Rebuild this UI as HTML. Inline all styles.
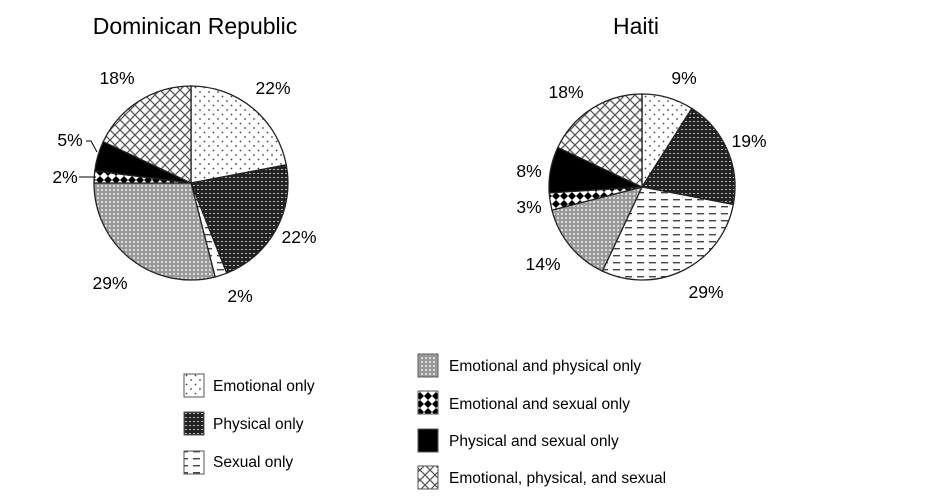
<!DOCTYPE html>
<html><head><meta charset="utf-8"><style>
body{margin:0;background:#fff;}
svg{display:block;font-family:"Liberation Sans",Arial,sans-serif;}
</style></head><body>
<svg id="s" width="933" height="500" viewBox="0 0 933 500" xmlns="http://www.w3.org/2000/svg">
<defs>
<pattern id="pE" width="9" height="9" patternUnits="userSpaceOnUse"><rect width="9" height="9" fill="#fff"/><circle cx="2" cy="2" r="0.9" fill="#444"/><circle cx="6.5" cy="6.5" r="0.9" fill="#444"/></pattern>
<pattern id="pP" width="4" height="4" patternUnits="userSpaceOnUse"><rect width="4" height="4" fill="#222"/><rect x="1" y="1" width="2" height="1" fill="#bbb"/></pattern>
<pattern id="pS" width="12" height="7" patternUnits="userSpaceOnUse"><rect width="12" height="7" fill="#fff"/><rect x="1" y="3" width="7" height="1.4" fill="#444"/></pattern>
<pattern id="pEP" width="4" height="4" patternUnits="userSpaceOnUse"><rect width="4" height="4" fill="#999"/><circle cx="2" cy="2" r="1" fill="#eee"/></pattern>
<pattern id="pES" width="8" height="8" patternUnits="userSpaceOnUse"><rect width="8" height="8" fill="#fff"/><path d="M4 0L8 4L4 8L0 4Z" fill="#000"/></pattern>
<pattern id="pA" width="10" height="10" patternUnits="userSpaceOnUse"><rect width="10" height="10" fill="#fff"/><path d="M0 0L10 10M10 0L0 10" stroke="#555" stroke-width="1.3"/></pattern>
</defs>
<text x="195" y="34" font-size="23" text-anchor="middle">Dominican Republic</text>
<text x="636" y="34" font-size="23" text-anchor="middle">Haiti</text>
<g id="pies"></g>
<g font-size="17.5">
<text x="273" y="94" text-anchor="middle">22%</text>
<text x="117" y="84" text-anchor="middle">18%</text>
<text x="70" y="146" text-anchor="middle">5%</text>
<text x="65" y="183" text-anchor="middle">2%</text>
<text x="299" y="243" text-anchor="middle">22%</text>
<text x="240" y="302" text-anchor="middle">2%</text>
<text x="110" y="289" text-anchor="middle">29%</text>
<text x="684" y="84" text-anchor="middle">9%</text>
<text x="566" y="98" text-anchor="middle">18%</text>
<text x="749" y="147" text-anchor="middle">19%</text>
<text x="529" y="177" text-anchor="middle">8%</text>
<text x="529" y="213" text-anchor="middle">3%</text>
<text x="543" y="270" text-anchor="middle">14%</text>
<text x="706" y="298" text-anchor="middle">29%</text>
</g>
<path d="M86 141L91 141L97 152M79 177L96 177" stroke="#000" fill="none"/>
<g stroke="#555" stroke-width="1">
<rect x="184" y="374" width="20" height="23" fill="url(#pE)"/>
<rect x="184" y="412" width="20" height="23" fill="url(#pP)"/>
<rect x="184" y="451" width="20" height="23" fill="url(#pS)"/>
<rect x="418" y="354" width="20" height="23" fill="url(#pEP)"/>
<rect x="418" y="391" width="20" height="23" fill="url(#pES)"/>
<rect x="418" y="429" width="20" height="23" fill="#000"/>
<rect x="418" y="466" width="20" height="23" fill="url(#pA)"/>
</g>
<g font-size="15.5">
<text x="213" y="391">Emotional only</text>
<text x="213" y="429">Physical only</text>
<text x="213" y="467">Sexual only</text>
<text x="449" y="371">Emotional and physical only</text>
<text x="449" y="409">Emotional and sexual only</text>
<text x="449" y="446">Physical and sexual only</text>
<text x="449" y="483">Emotional, physical, and sexual</text>
</g>
</svg>
<script>
var fills=["url(#pE)","url(#pP)","url(#pS)","url(#pEP)","url(#pES)","#000","url(#pA)"];
function pie(cx,cy,r,vals){
 var g=document.getElementById("pies"),a=0,out="";
 vals.forEach(function(v,i){
  var a2=a+v/100*2*Math.PI;
  var x1=cx+r*Math.sin(a),y1=cy-r*Math.cos(a),x2=cx+r*Math.sin(a2),y2=cy-r*Math.cos(a2);
  out+='<path d="M'+cx+' '+cy+'L'+x1+' '+y1+'A'+r+' '+r+' 0 '+(v>50?1:0)+' 1 '+x2+' '+y2+'Z" fill="'+fills[i]+'" stroke="#222" stroke-width="1.3"/>';
  a=a2;
 });
 g.innerHTML+=out;
}
pie(191,183,97,[22,22,2,29,2,5,18]);
pie(642,187,93,[9,19,29,14,3,8,18]);
</script>
</body></html>
